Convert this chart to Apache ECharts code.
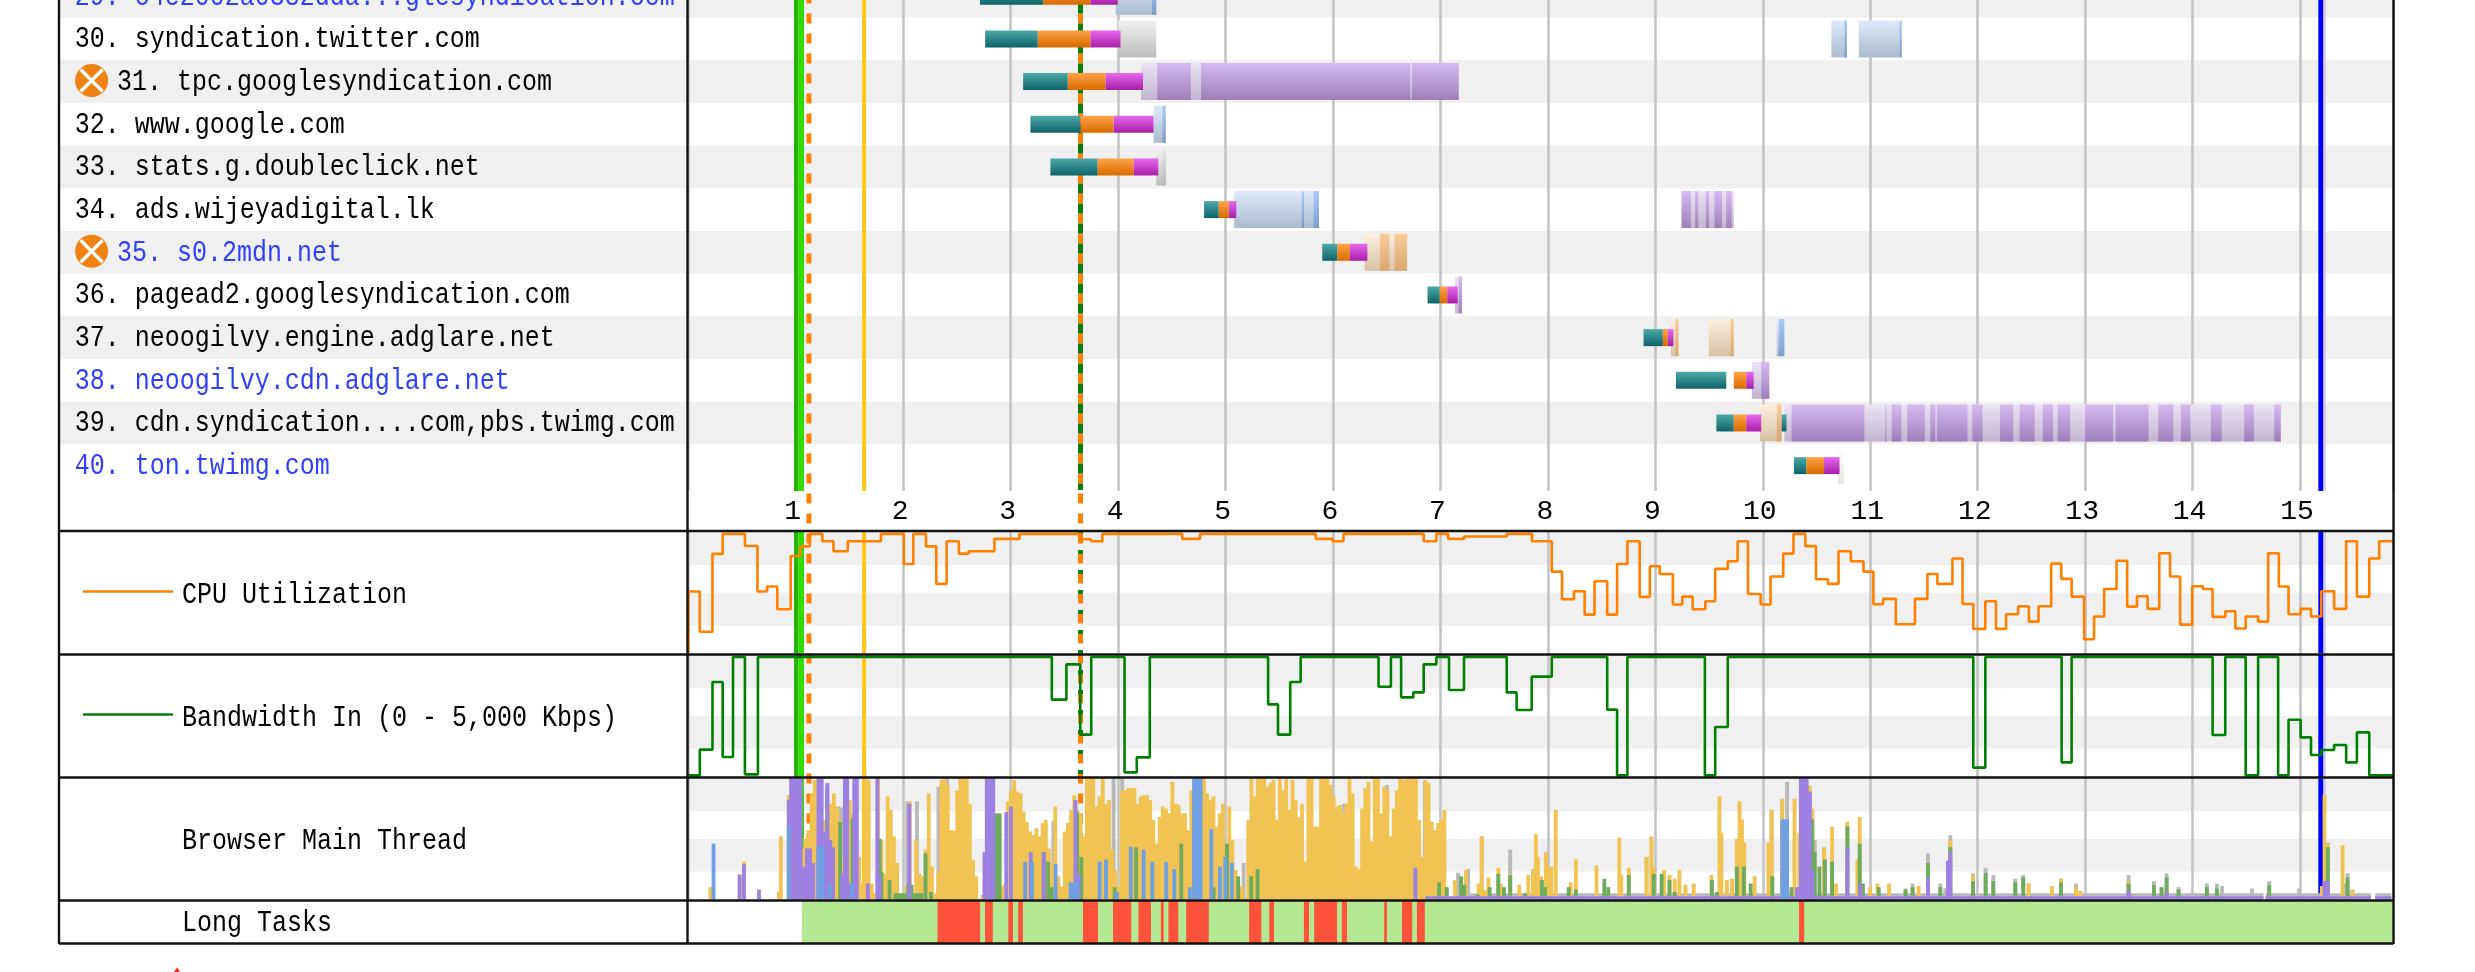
<!DOCTYPE html>
<html><head><meta charset="utf-8">
<style>html,body{margin:0;padding:0;background:#fff;overflow:hidden}#c{width:2475px;height:972px}</style>
<script src="https://cdn.jsdelivr.net/npm/echarts@6/dist/echarts.min.js"></script>
</head><body><div id="c"></div><script>
// ---------- data ----------
var xTickLabels = ['', '1','2','3','4','5','6','7','8','9','10','11','12','13','14','15'];
var rowNumbers = [29,30,31,32,33,34,35,36,37,38,39,40];
var rowHosts = ['c4e2002a0382dda...glesyndication.com','syndication.twitter.com','tpc.googlesyndication.com','www.google.com','stats.g.doubleclick.net','ads.wijeyadigital.lk','s0.2mdn.net','pagead2.googlesyndication.com','neoogilvy.engine.adglare.net','neoogilvy.cdn.adglare.net','cdn.syndication....com,pbs.twimg.com','ton.twimg.com'];
var blueRows = [29,35,38,40];
var flaggedRows = [31,35];
var panelTitles = ['CPU Utilization','Bandwidth In (0 - 5,000 Kbps)','Browser Main Thread','Long Tasks'];

// [row, start, end] seconds
var dnsBars = [[29,2.714,3.302],[30,2.763,3.253],[31,3.116,3.532],[32,3.184,3.65],[33,3.37,3.81],[34,4.8,4.937],[35,5.9,6.04],[36,6.88,6.994],[37,8.89,9.07],[38,9.192,9.66],[39,9.568,9.73],[39,10.175,10.22],[40,10.29,10.407]];
var connectBars = [[29,3.302,3.743],[30,3.253,3.743],[31,3.532,3.885],[32,3.65,3.958],[33,3.81,4.145],[34,4.937,5.03],[35,6.04,6.157],[36,6.994,7.063],[37,9.07,9.116],[38,9.73,9.846],[39,9.73,9.846],[40,10.407,10.57]];
var sslBars = [[29,3.743,3.997],[30,3.743,4.022],[31,3.885,4.232],[32,3.958,4.33],[33,4.145,4.374],[34,5.03,5.1],[35,6.157,6.32],[36,7.063,7.16],[37,9.116,9.168],[38,9.846,9.915],[39,9.846,9.985],[40,10.57,10.714]];
// [row, start, end, kind]  b=blue g=grey p=purple o=peach w=white
var waitBars = [[29,3.978,4.355,'b'],[30,4.002,4.355,'g'],[30,10.638,10.783,'b'],[30,10.893,11.292,'b'],[31,4.213,7.17,'p'],[32,4.33,4.443,'b'],[33,4.355,4.443,'g'],[34,5.08,5.87,'b'],[34,9.244,9.73,'p'],[35,6.294,6.69,'o'],[36,7.136,7.2,'p'],[37,9.145,9.215,'o'],[37,9.498,9.73,'o'],[37,10.13,10.2,'b'],[38,9.898,10.06,'p'],[39,9.973,10.175,'o'],[39,10.2,14.82,'p'],[40,10.7,10.754,'w']];
var loadBars = [[29,4.315,4.355,'b'],[30,10.76,10.783,'b'],[30,11.275,11.292,'b'],[31,4.364,4.678,'p'],[31,4.771,6.72,'p'],[31,6.735,7.17,'p'],[32,4.413,4.443,'b'],[33,4.42,4.443,'g'],[34,5.71,5.73,'b'],[34,5.82,5.87,'b'],[34,9.244,9.33,'p'],[34,9.37,9.4,'p'],[34,9.47,9.5,'p'],[34,9.55,9.62,'p'],[34,9.66,9.71,'p'],[35,6.436,6.524,'o'],[35,6.574,6.69,'o'],[36,7.17,7.2,'p'],[37,9.186,9.215,'o'],[37,9.70,9.73,'o'],[37,10.15,10.2,'b'],[38,9.985,10.06,'p'],[39,10.13,10.175,'o'],[39,10.268,10.945,'p'],[39,11.14,11.15,'p'],[39,11.2,11.29,'p'],[39,11.345,11.507,'p'],[39,11.558,11.605,'p'],[39,11.62,11.905,'p'],[39,11.95,12.045,'p'],[39,12.207,12.33,'p'],[39,12.39,12.53,'p'],[39,12.606,12.7,'p'],[39,12.745,12.86,'p'],[39,12.999,13.26,'p'],[39,13.283,13.59,'p'],[39,13.68,13.82,'p'],[39,13.89,13.98,'p'],[39,14.17,14.27,'p'],[39,14.48,14.57,'p'],[39,14.76,14.82,'p']];

// vertical event markers [start, end] seconds
var startRenderDark = [0.984,1.023];
var startRenderLight = [1.023,1.077];
var domLoadedMark = [1.617,1.655];
var docCompleteMark = [15.17,15.215];
var docCompleteHalo = [15.215,15.24];
var dashedTimes = [1.123,3.65];

// [t, percent] step points
var cpuSteps = [[0,0],[0,51.4],[.107,18],[.225,82.8],[.32,99.4],[.527,89.4],[.644,51.4],[.733,55.6],[.828,36.7],[.953,81],[1.042,89],[1.13,99.4],[1.248,93.3],[1.351,85],[1.484,93.3],[1.793,99.4],[2.006,74.4],[2.094,99.4],[2.212,89],[2.308,57.8],[2.404,93.3],[2.518,83],[2.61,85],[2.849,95.3],[3.081,99.4],[3.659,95],[3.75,93.3],[3.854,99.4],[4.597,95.3],[4.763,99.4],[5.839,95.3],[5.997,93.3],[6.097,99.4],[6.844,93.3],[6.962,99.4],[7.072,95.3],[7.219,97.2],[7.617,99.4],[7.852,93.3],[8.036,68],[8.132,45],[8.243,51.7],[8.342,32.2],[8.434,60],[8.552,32.2],[8.644,74.4],[8.74,93.3],[8.854,47],[8.949,72.5],[9.041,66],[9.163,40.6],[9.251,47.2],[9.347,36.7],[9.465,43.3],[9.557,70.3],[9.674,76.7],[9.766,93.3],[9.862,49.4],[9.98,40.6],[10.072,63.9],[10.19,83],[10.285,99.4],[10.396,89.2],[10.495,61.7],[10.606,57.8],[10.705,85],[10.819,76.7],[10.937,68],[11.029,40.8],[11.12,45.3],[11.238,24.2],[11.416,45.3],[11.532,66],[11.625,57.8],[11.765,78.9],[11.859,41],[11.959,20.3],[12.071,43.3],[12.17,20.3],[12.264,32.5],[12.376,39.2],[12.476,26.4],[12.566,39.2],[12.684,74.7],[12.778,62],[12.874,47.2],[12.99,11.7],[13.083,30.6],[13.177,53.6],[13.292,77],[13.391,38.9],[13.482,47.5],[13.582,37],[13.69,83.3],[13.79,63.9],[13.884,23.9],[13.996,55.8],[14.096,53.6],[14.186,30.3],[14.304,35],[14.398,20.6],[14.494,30.6],[14.61,26.4],[14.703,83.3],[14.803,55.6],[14.893,32.5],[15.005,37],[15.102,30.6],[15.198,51.7],[15.317,37],[15.429,93.3],[15.529,47.2],[15.644,78.9],[15.737,93.3],[15.87,93.3]];
var bandwidthSteps = [[0,0],[.107,21.7],[.225,78.9],[.32,15.5],[.416,100],[.527,.8],[.648,100],[3.383,64],[3.519,93.8],[3.648,34.4],[3.75,100],[4.06,2.5],[4.174,15.2],[4.295,100],[5.396,60],[5.488,34.4],[5.602,78.9],[5.699,100],[6.424,74.9],[6.539,100],[6.634,65.9],[6.748,70.1],[6.844,93.8],[6.962,100],[7.08,72.1],[7.219,100],[7.617,70.1],[7.709,55.2],[7.849,83.4],[8.036,100],[8.552,55.5],[8.644,0],[8.74,100],[9.461,0],[9.557,40.8],[9.674,100],[11.959,6.5],[12.071,100],[12.781,11],[12.874,100],[14.186,34.1],[14.304,100],[14.494,0],[14.61,100],[14.796,0],[14.893,47],[15.005,32.1],[15.102,17.2],[15.198,21.4],[15.317,25.6],[15.429,11],[15.529,36.3],[15.644,0],[15.87,0]];

// main thread: dense scripting columns, one per sample from scriptStart
var scriptStart = 0.954;
var scriptStep = 0.02944;
var scriptDense = [90,100,100,42,50,57,87.6,98.6,57,100,65.6,57,79,87.6,76.6,65.6,35,100,82,71,100,35,13,100,98.6,13,5,100,49,21.5,85,74,52,30,5,5,10.5,81,5,49,21.5,19,41,87.6,27,5,23,98.6,100,94.5,57,57,90,100,100,100,79,32.5,19,0,3.6,0,0,0,0,13,10.5,13,81,90,98.6,89,87.6,72.5,64,56,53,58.7,52,63,65.6,42,30,76.6,19,10.5,56,63,74,86,74,71,52,100,100,100,76.6,85,100,79,82,41,24,10.5,90,90,92,92,92,79,85,86,86,82,65.6,46,68,76.6,75,71,97,79,78,71,71,57,90,98.6,98.6,100,100,87.6,82,85,60,71,79,41,76.6,49,24,3.6,10.5,1,65.6,100,85,100,100,100,93,96,98.6,65.6,100,90,100,74,98.6,82,68,79,31,100,100,60,60,100,100,100,94.5,85,76.6,78,71,79,100,87.6,27,25,75,92,97,48,100,100,71,93,90,52,75,90,100,98.6,100,100,100,100,65.6,35,98.6,96,64,57,63,65.6,74];
var scriptSparse = [[.188,10],[.46,21],[.5,31],[.825,6],[.843,52],[.917,86],[7.116,16],[7.219,24],[7.337,13],[7.366,52],[7.396,8],[7.429,18],[7.521,26],[7.543,13],[7.631,21],[7.716,12],[7.8,20],[7.845,24],[7.87,54],[7.889,35],[7.918,19],[7.963,39],[7.99,27],[8.014,27],[8.055,74],[8.194,14],[8.242,33],[8.434,28],[8.647,51],[8.665,20],[8.735,26],[8.9,35],[8.945,52],[8.967,27],[9.063,24],[9.114,20],[9.162,17],[9.206,24],[9.262,12],[9.339,13],[9.504,20],[9.578,85],[9.597,55],[9.648,16],[9.696,17],[9.74,50],[9.766,81],[9.788,66],[9.81,47],[9.906,19],[10.034,47],[10.064,74],[10.163,83],[10.185,41],[10.277,83],[10.321,55],[10.42,94],[10.443,75],[10.553,43],[10.627,60],[10.664,13],[10.767,64],[10.862,33],[10.884,68],[10.98,10],[11.05,13],[11.157,13],[11.432,11],[11.727,49],[11.938,20],[12.456,13],[12.673,11],[12.757,17],[12.896,10],[12.936,7],[13.386,15],[15.185,11],[15.21,86.5],[15.241,45.6],[15.378,44.7],[15.47,8]];
var otherColumns = [[1.377,76.6],[1.41,76],[2.02,81],[2.11,81],[2.31,93],[2.34,93],[2.39,100],[2.985,90],[3.38,65],[3.6,74],[3.94,100],[4.02,100],[4.04,85],[5.15,30],[5.924,94.5],[6.086,79],[6.483,94.5],[6.77,35],[6.836,98],[7.04,9],[7.146,22],[7.24,25],[7.366,52],[7.631,41],[7.845,25],[7.97,39],[8.9,35],[10.064,74],[10.163,83],[10.208,97],[10.465,49],[10.553,43],[11.31,9],[11.376,13],[11.519,38],[11.634,13],[11.68,9],[11.727,53],[11.938,21.5],[12.056,26],[12.127,20],[12.332,17],[12.406,20],[12.456,13],[12.757,17],[12.896,13],[13.386,20],[13.622,15],[13.693,10],[13.74,21.5],[13.851,10],[14.115,13],[14.208,13],[14.255,11],[14.534,9],[14.695,15],[14.974,9],[15.241,47],[15.402,13],[15.424,21.5],[15.47,8]];
var paintColumns = [[1.274,93],[1.395,64],[1.46,98],[1.51,67],[1.763,50],[1.78,23],[1.855,16],[1.91,5],[1.94,5],[1.97,5],[2.0,5],[2.03,12],[2.06,12],[2.09,5],[2.12,5],[2.15,5],[2.19,38],[2.24,6],[2.85,71],[2.88,71],[3.29,39],[3.33,31],[3.364,10],[3.6,72],[3.64,35],[3.95,10],[4.15,43],[4.57,46],[4.87,10],[4.995,46],[5.1,19],[5.22,19],[5.28,25],[6.969,14],[7.04,10],[7.175,19],[7.204,12],[7.33,4],[7.44,10],[7.52,21],[7.573,10],[7.631,20],[7.771,5],[7.926,16],[7.955,10],[8.176,10],[8.242,8],[8.507,17],[8.544,10],[8.735,20],[8.967,21],[9.04,21],[9.114,16],[9.162,6],[9.508,16],[9.556,6],[9.74,27],[9.806,27],[9.869,13],[10.071,19],[10.248,10],[10.443,66],[10.465,39],[10.509,27],[10.56,33],[10.627,31],[10.77,60],[10.884,46],[10.914,13],[11.061,10],[11.311,8],[11.376,10],[11.519,30],[11.634,10],[11.727,43],[11.938,15],[12.056,21.5],[12.127,15],[12.332,14],[12.406,18],[12.757,14],[13.386,13],[13.622,11.6],[13.693,10],[13.74,18],[13.851,8],[14.115,10],[14.208,9],[14.695,11.6],[15.241,43],[15.424,18]];
var layoutColumns = [[.46,20],[.5,29],[.64,8],[.917,82],[.939,100],[.968,100],[.998,100],[1.027,100],[1.056,27],[1.086,42],[1.115,42],[1.145,30],[1.193,100],[1.223,100],[1.255,56],[1.277,96],[1.303,49],[1.329,43],[1.413,21],[1.439,100],[1.46,100],[1.483,13],[1.527,100],[1.55,100],[1.653,13],[1.741,100],[1.763,19],[2.039,79],[2.738,39],[2.76,100],[2.79,100],[2.82,100],[2.941,72],[2.985,76.6],[3.169,39],[3.29,39],[3.585,82],[3.614,21],[6.748,26],[10.3,10],[10.336,100],[10.365,100],[10.39,100],[10.42,89],[10.443,24],[10.4,33],[10.77,43],[10.89,13],[11.519,18],[11.705,32],[11.727,39],[13.386,7],[13.74,6],[15.21,15],[15.241,15]];
var parseColumns = [[.217,46],[.917,61],[1.193,44],[1.23,43.5],[1.303,13],[1.505,13],[3.117,31],[3.18,31],[3.4,29],[3.54,14],[3.57,14],[3.6,14],[3.81,31],[3.87,33],[3.97,6],[4.1,43.5],[4.22,41],[4.3,31],[4.43,31],[4.505,25],[4.65,10],[4.689,100],[4.72,100],[4.75,100],[4.85,58],[4.93,27],[4.98,35],[5.04,30],[10.163,66],[10.185,66],[10.208,66]];
// low continuous activity [start, end, percent]
var otherRuns = [[7.2,14.66,5],[14.68,15.66,5],[15.7,15.85,5]];
var layoutRuns = [[6.86,14.66,2.5],[14.68,15.66,2.5],[15.7,15.85,2.5]];

// long tasks
var idleSpan = [1.057,15.87];
var longTasks = [[2.319,2.716],[2.761,2.834],[2.978,3.022],[3.07,3.114],[3.673,3.813],[3.953,4.122],[4.189,4.306],[4.398,4.424],[4.468,4.56],[4.634,4.844],[5.219,5.333],[5.407,5.451],[5.729,5.777],[5.825,6.038],[6.082,6.13],[6.476,6.502],[6.642,6.737],[6.781,6.855],[10.337,10.385]];

// panel zebra bands [from, to] in each panel's scale
var cpuBands = [[73.6,101],[23,50.5]];
var bandwidthBands = [[73.5,101.7],[22.5,50.1]];
var mainBands = [[72.7,100],[22.9,49.9]];

// ---------- styling ----------
var FONT = '25px "Liberation Mono", monospace';
var TEXT_STRETCH = 1.2;
var INK = '#000', LINK = '#2f40fa', RULE = '#c4c4c4', FRAME = '#111', ZEBRA = '#f0f0f0';
function grad(a,b){ return new echarts.graphic.LinearGradient(0,0,0,1,[{offset:0,color:a},{offset:1,color:b}]); }
var waitFill = {b:grad('#e0e9fb','#a9bbd0'), g:grad('#f2f2f2','#bcbcbc'), p:grad('#ebe3f6','#c2b4d2'), o:grad('#fdeede','#d8c2a6'), w:grad('#ffffff','#dfe8dc')};
var loadFill = {b:grad('#a9cbf8','#7a9cc8'), g:grad('#e6e6e6','#b4b4b4'), p:grad('#d6baf0','#9f7eb8'), o:grad('#f9cc9c','#d8a870')};
var dnsFill = grad('#4fa8aa','#0c6468'), connectFill = grad('#ffa347','#d86a00'), sslFill = grad('#e768ee','#a61fa8');

var T0 = 688.3, PER_SEC = 107.45, TMAX = 15.87, RIGHT = T0 + TMAX*PER_SEC;
var ROW_H = 42.67, ROW30_TOP = 17.6;
var rowMin = 30 - ROW30_TOP/ROW_H, rowMax = 30 + (491-ROW30_TOP)/ROW_H;

function hiddenAxis(idx,min,max,inv){ return {type:'value',gridIndex:idx,min:min,max:max,inverse:!!inv,show:false,splitLine:{show:false}}; }
function timeAxis(idx,labels){
  return {type:'value',gridIndex:idx,min:0,max:TMAX,interval:1,z:1,
    axisLine:{show:false},axisTick:{show:false},
    splitLine:{show:true,lineStyle:{color:RULE,width:2.6}},
    axisLabel:labels?{show:true,margin:7,showMaxLabel:false,showMinLabel:false,color:INK,fontFamily:'Liberation Mono',fontSize:28,padding:[0,6,0,0],
      formatter:function(v){return xTickLabels[v]||'';}}:{show:false}};
}
function rectEl(x,y,w,h,fill){ return {type:'rect',shape:{x:x,y:y,width:w,height:h},style:{fill:fill}}; }

function seriesOf(idx,z,data,render){ return {type:'custom',xAxisIndex:idx,yAxisIndex:idx,z:z,silent:true,clip:false,animation:false,encode:{x:[],y:[]},data:data.map(function(d,i){return [i];}),renderItem:render}; }

function rowBands(idx){
  return seriesOf(idx,0,rowNumbers.filter(function(r){return r%2===1;}),function(p,api){
    var r=rowNumbers.filter(function(r){return r%2===1;})[p.dataIndex];
    var cs=p.coordSys, a=api.coord([0,r]), b=api.coord([0,r+1]);
    return rectEl(cs.x,a[1],cs.width,b[1]-a[1],ZEBRA);
  });
}
function panelBands(idx,bands){
  return seriesOf(idx,0,bands,function(p,api){
    var cs=p.coordSys, a=api.coord([0,bands[p.dataIndex][1]]), b=api.coord([0,bands[p.dataIndex][0]]);
    return rectEl(cs.x,a[1],cs.width,b[1]-a[1],ZEBRA);
  });
}
function markers(idx){
  var spans=[[startRenderDark,'#26b20a'],[startRenderLight,'#33dc00'],[domLoadedMark,'#ffc61a'],[docCompleteHalo,'#ccccff'],[docCompleteMark,'#0000ff']];
  return seriesOf(idx,2,spans,function(p,api){
    var s=spans[p.dataIndex], cs=p.coordSys, a=api.coord([s[0][0],0]), b=api.coord([s[0][1],0]);
    return rectEl(a[0],cs.y,b[0]-a[0],cs.height,s[1]);
  });
}
function timeBars(idx,z,arr,yFrac,fillFn){
  return seriesOf(idx,z,arr,function(p,api){
    var d=arr[p.dataIndex], a=api.coord([d[1],d[0]+0.5]), b=api.coord([d[2],d[0]+0.5]);
    var h=ROW_H*yFrac;
    return rectEl(a[0],a[1]-h/2,b[0]-a[0],h,fillFn(d));
  });
}
function columns(arr,color,z){
  return seriesOf(4,z,arr,function(p,api){
    var d=arr[p.dataIndex], a=api.coord([d[0],d[1]]), b=api.coord([d[0]+scriptStep,0]);
    return rectEl(a[0],a[1],b[0]-a[0]+0.7,b[1]-a[1],color);
  });
}
function runs(arr,color,z){
  return seriesOf(4,z,arr,function(p,api){
    var d=arr[p.dataIndex], a=api.coord([d[0],d[2]]), b=api.coord([d[1],0]);
    return rectEl(a[0],a[1],b[0]-a[0],b[1]-a[1],color);
  });
}
var scriptColumns = scriptSparse.concat(scriptDense.map(function(v,i){return [scriptStart+i*scriptStep,v];}));

var frame = [[59,0,59,944],[687.5,0,687.5,944],[RIGHT,0,RIGHT,944],[59,531,RIGHT,531],[59,654.5,RIGHT,654.5],[59,777.5,RIGHT,777.5],[59,900.5,RIGHT,900.5],[59,943.5,RIGHT,943.5]];
var graphics = frame.map(function(l){return {type:'line',silent:true,z:100,shape:{x1:l[0],y1:l[1],x2:l[2],y2:l[3]},style:{stroke:FRAME,lineWidth:2.4}};});
var titleY = [595,718,841,923];
panelTitles.forEach(function(t,i){ graphics.push({type:'text',silent:true,z:100,x:182,y:titleY[i],scaleY:TEXT_STRETCH,style:{text:t,font:FONT,fill:INK,verticalAlign:'middle',align:'left'}}); });
graphics.push({type:'line',silent:true,z:100,shape:{x1:83,y1:591.5,x2:173,y2:591.5},style:{stroke:'#ff8000',lineWidth:2.4}});
graphics.push({type:'line',silent:true,z:100,shape:{x1:83,y1:714.5,x2:173,y2:714.5},style:{stroke:'#0a7a0a',lineWidth:2.4}});
graphics.push({type:'polygon',silent:true,z:100,shape:{points:[[177,967.5],[180,972],[174,972]]},style:{fill:'#ff2020'}});

var option = {
  animation:false, backgroundColor:'#fff', graphic:graphics,
  grid:[
    {left:59,width:628.5,top:0,height:491},
    {left:T0,width:TMAX*PER_SEC,top:0,height:491},
    {left:T0,width:TMAX*PER_SEC,top:532,height:121.3},
    {left:T0,width:TMAX*PER_SEC,top:655,height:122},
    {left:T0,width:TMAX*PER_SEC,top:778.3,height:121},
    {left:T0,width:TMAX*PER_SEC,top:900,height:43},
    {left:T0,width:TMAX*PER_SEC,top:0,height:945}
  ],
  xAxis:[
    {type:'value',gridIndex:0,min:0,max:1,show:false,splitLine:{show:false}},
    timeAxis(1,true),timeAxis(2),timeAxis(3),timeAxis(4),
    {type:'value',gridIndex:5,min:0,max:TMAX,show:false,splitLine:{show:false}},
    {type:'value',gridIndex:6,min:0,max:TMAX,show:false,splitLine:{show:false}}
  ],
  yAxis:[
    hiddenAxis(0,rowMin,rowMax,true),hiddenAxis(1,rowMin,rowMax,true),
    hiddenAxis(2,0,101),hiddenAxis(3,-1.4,101.7),hiddenAxis(4,0,100),hiddenAxis(5,0,1),hiddenAxis(6,0,945,true)
  ],
  series:[
    rowBands(0),rowBands(1),
    panelBands(2,cpuBands),panelBands(3,bandwidthBands),panelBands(4,mainBands),
    seriesOf(0,5,rowNumbers,function(p,api){
      var r=rowNumbers[p.dataIndex], c=api.coord([0,r+0.5]), cs=p.coordSys;
      var flagged=flaggedRows.indexOf(r)>=0, x=cs.x+(flagged?58:15.7), kids=[];
      if(flagged){
        var cx=cs.x+32.6, cy=c[1]-1;
        kids.push({type:'circle',shape:{cx:cx,cy:cy,r:16.5},style:{fill:'#ef8212'}});
        kids.push({type:'line',shape:{x1:cx-11,y1:cy-11,x2:cx+11,y2:cy+11},style:{stroke:'#fff',lineWidth:3.5}});
        kids.push({type:'line',shape:{x1:cx+11,y1:cy-11,x2:cx-11,y2:cy+11},style:{stroke:'#fff',lineWidth:3.5}});
      }
      kids.push({type:'text',x:x,y:c[1]+0.5,scaleY:TEXT_STRETCH,style:{text:r+'. '+rowHosts[p.dataIndex],font:FONT,fill:blueRows.indexOf(r)>=0?LINK:INK,verticalAlign:'middle',align:'left'}});
      return {type:'group',children:kids};
    }),
    markers(1),markers(2),markers(3),markers(4),
    seriesOf(6,3,dashedTimes,function(p,api){
      var x=api.coord([dashedTimes[p.dataIndex],0])[0];
      return {type:'line',shape:{x1:x,y1:0,x2:x,y2:945},style:{stroke:'#ff8000',lineWidth:5,lineDash:[10,10],lineDashOffset:6.5}};
    }),
    seriesOf(6,3,[dashedTimes[1]],function(p,api){
      var x=api.coord([dashedTimes[1],0])[0];
      return {type:'line',shape:{x1:x,y1:0,x2:x,y2:490},style:{stroke:'#0a7d0a',lineWidth:5,lineDash:[10,10],lineDashOffset:16.5}};
    }),
    seriesOf(6,3,[dashedTimes[1]],function(p,api){
      var x=api.coord([dashedTimes[1],0])[0];
      return {type:'line',shape:{x1:x,y1:531,x2:x,y2:777},style:{stroke:'#0a7d0a',lineWidth:5,lineDash:[4,16],lineDashOffset:1}};
    }),
    timeBars(1,6,waitBars,37/ROW_H,function(d){return waitFill[d[3]];}),
    timeBars(1,7,loadBars,37/ROW_H,function(d){return loadFill[d[3]];}),
    timeBars(1,8,dnsBars,17/ROW_H,function(){return dnsFill;}),
    timeBars(1,8,connectBars,17/ROW_H,function(){return connectFill;}),
    timeBars(1,8,sslBars,17/ROW_H,function(){return sslFill;}),
    {type:'line',xAxisIndex:2,yAxisIndex:2,z:6,step:'end',showSymbol:false,silent:true,clip:false,animation:false,data:cpuSteps,lineStyle:{color:'#ff8000',width:2.6}},
    {type:'line',xAxisIndex:3,yAxisIndex:3,z:6,step:'end',showSymbol:false,silent:true,clip:false,animation:false,data:bandwidthSteps,lineStyle:{color:'#008000',width:2.6}},
    runs(otherRuns,'#b9b9b9',5),
    columns(otherColumns,'#b9b9b9',5),
    columns(scriptColumns,'#f1c353',6),
    columns(paintColumns,'#6dab5e',7),
    runs(layoutRuns,'#9c80e2',8),
    columns(layoutColumns,'#9c80e2',8),
    columns(parseColumns,'#6fa0e2',9),
    seriesOf(5,5,[idleSpan],function(p,api){
      var a=api.coord([idleSpan[0],1]), b=api.coord([idleSpan[1],0]);
      return rectEl(a[0],a[1],b[0]-a[0],b[1]-a[1],'#b4e892');
    }),
    seriesOf(5,6,longTasks,function(p,api){
      var d=longTasks[p.dataIndex], a=api.coord([d[0],1]), b=api.coord([d[1],0]);
      return rectEl(a[0],a[1],b[0]-a[0],b[1]-a[1],'#ff523a');
    })
  ]
};
var chart = echarts.init(document.getElementById('c'),null,{renderer:'canvas',width:2475,height:972});
chart.setOption(option);
</script></body></html>
